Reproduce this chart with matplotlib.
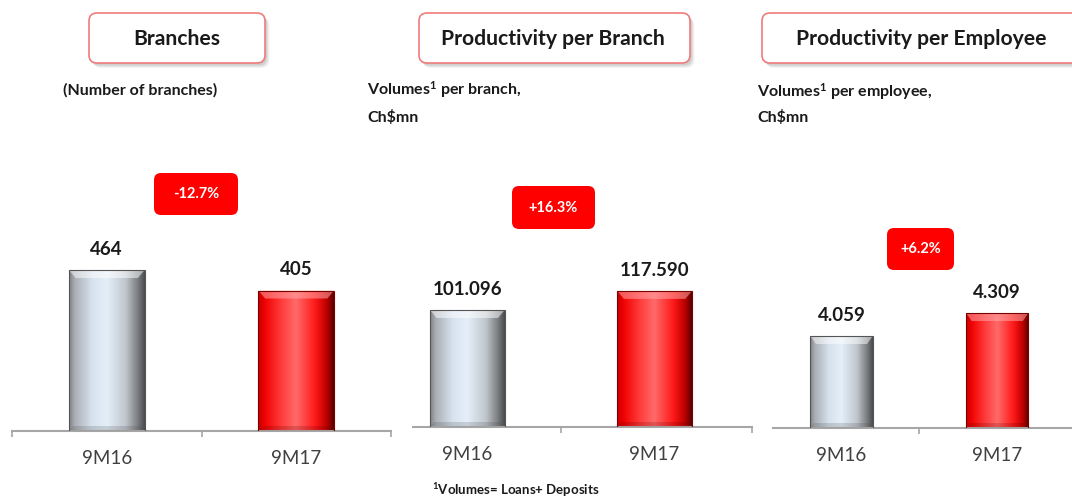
import numpy as np
import matplotlib
matplotlib.use("Agg")
import matplotlib.pyplot as plt
from matplotlib.colors import LinearSegmentedColormap
from matplotlib.patches import FancyBboxPatch, Polygon

plt.rcParams['font.family'] = ['Lato', 'DejaVu Sans']
plt.rcParams['mathtext.fontset'] = 'custom'
plt.rcParams['mathtext.rm'] = 'Lato:bold'
plt.rcParams['mathtext.it'] = 'Lato:bold'
plt.rcParams['mathtext.bf'] = 'Lato:bold'

# Data
periods = ["9M16", "9M17"]
branches = [464, 405]
volumes_per_branch = [101.096, 117.590]
volumes_per_employee = [4.059, 4.309]
changes = ["-12.7%", "+16.3%", "+6.2%"]
titles = ["Branches", "Productivity per Branch", "Productivity per Employee"]
subtitles = [["(Number of branches)"],
             ["Volumes$^{1}$ per branch,", "Ch$mn"],
             ["Volumes$^{1}$ per employee,", "Ch$mn"]]
footnote = "$^{1}$Volumes= Loans+ Deposits"

W, H = 1072, 497
fig = plt.figure(figsize=(W / 100, H / 100), dpi=100)
fig.patch.set_facecolor("white")

def px(x, y):
    # pixel position (from top-left) -> figure fraction
    return x / W, 1 - y / H

def rect_px(left, right, top, bottom):
    return [left / W, 1 - bottom / H, (right - left) / W, (bottom - top) / H]

gray_cmap = LinearSegmentedColormap.from_list("gray_bar", [
    (0.0, "#7c7f84"), (0.07, "#a9adb2"), (0.3, "#d6e2ee"), (0.5, "#e4eff9"),
    (0.75, "#bfc5cb"), (0.9, "#7d8084"), (1.0, "#4a4b4d")])
red_cmap = LinearSegmentedColormap.from_list("red_bar", [
    (0.0, "#c00000"), (0.08, "#f00000"), (0.3, "#ff3a3a"), (0.5, "#ff6a6a"),
    (0.75, "#ff1a1a"), (0.9, "#c00000"), (1.0, "#5a0000")])


def shade_bar(ax, rect, cmap, units_per_px, top_color, bottom_color):
    x, w = rect.get_x(), rect.get_width()
    y0, h = rect.get_y(), rect.get_height()
    grad = np.linspace(0, 1, 256).reshape(1, -1)
    im = ax.imshow(grad, cmap=cmap, extent=[x, x + w, y0, y0 + h],
                   aspect='auto', interpolation='bilinear', zorder=2)
    im.set_clip_path(rect)
    inset = w * 0.09
    top = y0 + h
    bev = 8 * units_per_px
    ax.add_patch(Polygon([(x, top), (x + w, top), (x + w - inset, top - bev), (x + inset, top - bev)],
                         closed=True, facecolor=top_color, edgecolor='none', zorder=2.5))
    bev = 5 * units_per_px
    ax.add_patch(Polygon([(x, y0), (x + w, y0), (x + w - inset * 0.6, y0 + bev), (x + inset * 0.6, y0 + bev)],
                         closed=True, facecolor=bottom_color, edgecolor='none', zorder=2.5))
    rect.set_facecolor('none')
    rect.set_zorder(3)


panels = [
    dict(vals=branches, fmt="{:d}", pos=(12, 391, 150, 431), xlim=(-0.5, 1.5),
         ylim=(0, 810), edges=[-0.5, 0.5, 1.5]),
    dict(vals=volumes_per_branch, fmt="{:.3f}", pos=(413, 752, 150, 427), xlim=(-0.29, 1.52),
         ylim=(0, 239.3), edges=[0.5, 1.52]),
    dict(vals=volumes_per_employee, fmt="{:.3f}", pos=(773, 1072, 150, 428), xlim=(-0.44, 1.48),
         ylim=(3.06, 6.08), edges=[0.5]),
]

for p in panels:
    left, right, top, bottom = p["pos"]
    ax = fig.add_axes(rect_px(left, right, top, bottom))
    x = np.arange(len(periods))
    floor = p["ylim"][0]
    bars = ax.bar(x, [v - floor for v in p["vals"]], width=0.4, bottom=floor,
                  edgecolor="#555555", linewidth=0.8)
    units_per_px = (p["ylim"][1] - p["ylim"][0]) / (bottom - top)
    shade_bar(ax, bars[0], gray_cmap, units_per_px, (1, 1, 1, 0.5), (0.3, 0.3, 0.3, 0.2))
    bars[1].set_edgecolor("#7a0000")
    shade_bar(ax, bars[1], red_cmap, units_per_px, (1, 0.65, 0.65, 0.55), (0.4, 0, 0, 0.2))
    for i, v in enumerate(p["vals"]):
        ax.annotate(p["fmt"].format(v), (i, v), xytext=(0, 15), textcoords="offset points",
                    ha="center", va="center", fontsize=13.5, fontweight="bold", color="#1a1a1a")
    ax.set_xlim(*p["xlim"])
    ax.set_ylim(*p["ylim"])
    ax.set_xticks(x)
    ax.set_xticklabels(periods, fontsize=13.5, color="#404040")
    ax.set_xticks(p["edges"], minor=True)
    ax.tick_params(axis="x", which="major", length=0, pad=14)
    ax.tick_params(axis="x", which="minor", length=4, width=1.2, color="#a6a6a6")
    ax.set_yticks([])
    for s in ["left", "right", "top"]:
        ax.spines[s].set_visible(False)
    ax.spines["bottom"].set_color("#a6a6a6")
    ax.spines["bottom"].set_linewidth(1.5)
    ax.patch.set_alpha(0)

# Title boxes (inches, figure dpi transform)
title_boxes = [(89, 265), (419, 690), (762, 1085)]
title_centers = [177, 553, 921]
for (x0, x1), xc, t in zip(title_boxes, title_centers, titles):
    for k, a in enumerate([0.18, 0.14, 0.10]):
        off = 0.02 + 0.012 * k
        fig.patches.append(FancyBboxPatch((x0 / 100 + off, (H - 63) / 100 - off - 0.005), (x1 - x0) / 100, 0.5,
                                          boxstyle="round,pad=0,rounding_size=0.08",
                                          transform=fig.dpi_scale_trans, facecolor="#808080",
                                          edgecolor="none", alpha=a, zorder=1))
    fig.patches.append(FancyBboxPatch((x0 / 100, (H - 63) / 100), (x1 - x0) / 100, 0.5,
                                      boxstyle="round,pad=0,rounding_size=0.08",
                                      transform=fig.dpi_scale_trans, facecolor="white",
                                      edgecolor="#ef7b7b", linewidth=1.2, zorder=2))
    fig.text(*px(xc, 39), t, ha="center", va="center", fontsize=15.2, fontweight="bold",
             color="#1a1a1a", zorder=3)

# Subtitles
sub_pos = [(63, [90]), (367, [90, 117]), (757, [92, 118])]
for (xl, ys), lines in zip(sub_pos, subtitles):
    for y, line in zip(ys, lines):
        fig.text(*px(xl, y), line, ha="left", va="center", fontsize=11.5,
                 fontweight="bold", color="#1a1a1a")

# Change boxes
change_boxes = [(154, 238, 173, 215), (512, 595, 186, 229), (887, 954, 228, 270)]
for (x0, x1, y0, y1), c in zip(change_boxes, changes):
    fig.patches.append(FancyBboxPatch((x0 / 100, (H - y1) / 100), (x1 - x0) / 100, (y1 - y0) / 100,
                                      boxstyle="round,pad=0,rounding_size=0.07",
                                      transform=fig.dpi_scale_trans, facecolor="#ff0000",
                                      edgecolor="none", zorder=2))
    fig.text(*px((x0 + x1) / 2, (y0 + y1) / 2), c, ha="center", va="center", fontsize=10.5,
             fontweight="bold", color="white", zorder=3)

fig.text(*px(432, 490), footnote, ha="left", va="center", fontsize=9.5,
         fontweight="bold", color="#1a1a1a")

fig.savefig("out.png", dpi=100)
